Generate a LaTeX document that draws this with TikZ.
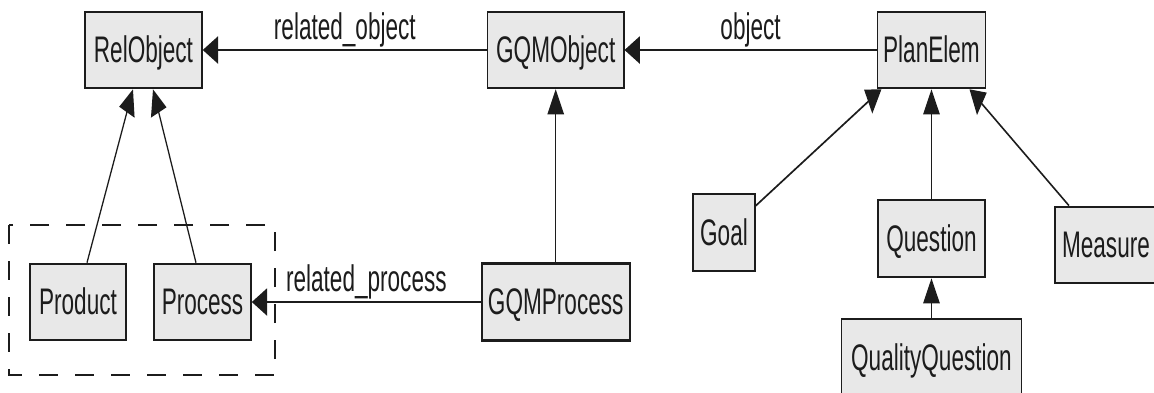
\documentclass[tikz,border=0pt]{standalone}
\usepackage{fontspec}
\setmainfont{Liberation Sans}
\usetikzlibrary{arrows.meta}
\definecolor{boxfill}{RGB}{232,232,232}
\definecolor{ink}{RGB}{28,28,28}
\begin{document}
\begin{tikzpicture}[x=1pt,y=-1pt,
  cls/.style={draw=ink, fill=boxfill, line width=2.6pt, inner sep=0pt,
    text height=25pt, text depth=0pt, text=ink,
    font=\fontsize{37}{40}\selectfont},
  genarrow/.style={draw=ink, line width=2pt,
    -{Triangle[length=25pt,width=27pt]}},
  assocarrow/.style={genarrow},
  lbl/.style={anchor=base, yshift=10.5pt, inner sep=0pt, text=ink,
    font=\fontsize{37}{40}\selectfont}]
\useasboundingbox (0,0) rectangle (1154,392);
\clip (0,0) rectangle (1154,392);
\fill[white] (0,0) rectangle (1154,392);
% package frame around Product and Process
\draw[ink, line width=1.7pt, dash pattern=on 19pt off 17pt] (9,225) rectangle (275,375);
% the class diagram itself, set in a horizontally condensed frame
\begin{scope}[transform canvas={xscale=0.61}]
  \node[cls, minimum width=191.8pt, minimum height=76pt] (rel) at (235.2,50) {RelObject};
  \node[cls, minimum width=223pt, minimum height=76pt] (gqmobj) at (911,50) {GQMObject};
  \node[cls, minimum width=177pt, minimum height=76pt] (plan) at (1527,50) {PlanElem};
  \node[cls, minimum width=157.4pt, minimum height=76pt] (product) at (127.9,302) {Product};
  \node[cls, minimum width=159pt, minimum height=76pt] (process) at (332,302) {Process};
  \node[cls, minimum width=242.6pt, minimum height=77pt] (gqmproc) at (911,302) {GQMProcess};
  \node[cls, minimum width=101.6pt, minimum height=77pt] (goal) at (1186.9,232.5) {Goal};
  \node[cls, minimum width=175.4pt, minimum height=77pt] (question) at (1527,238.5) {Question};
  \node[cls, minimum width=167.2pt, minimum height=76pt] (measure) at (1813.1,245) {Measure};
  \node[cls, minimum width=295.1pt, minimum height=77pt] (qq) at (1527,357.5) {QualityQuestion};

  % associations
  \draw[assocarrow] (gqmobj) -- node[lbl] {related\_object} (rel);
  \draw[assocarrow] (plan) -- node[lbl] {object} (gqmobj);
  \draw[assocarrow] (gqmproc) -- node[lbl] {related\_process} (process);

  % generalisations
  \draw[genarrow] (gqmproc) -- (gqmobj);
  \draw[genarrow] ([xshift=14.7pt]product.north) -- ([xshift=-17.2pt]rel.south);
  \draw[genarrow] ([xshift=-10.7pt]process.north) -- ([xshift=15.6pt]rel.south);
  \draw[genarrow] ([yshift=-13pt]goal.north east) -- ([xshift=-82pt]plan.south);
  \draw[genarrow] (question) -- (plan);
  \draw[genarrow] ([xshift=-60.6pt]measure.north) -- ([xshift=62.3pt]plan.south);
  \draw[genarrow] (qq) -- (question);
\end{scope}
\end{tikzpicture}
\end{document}
